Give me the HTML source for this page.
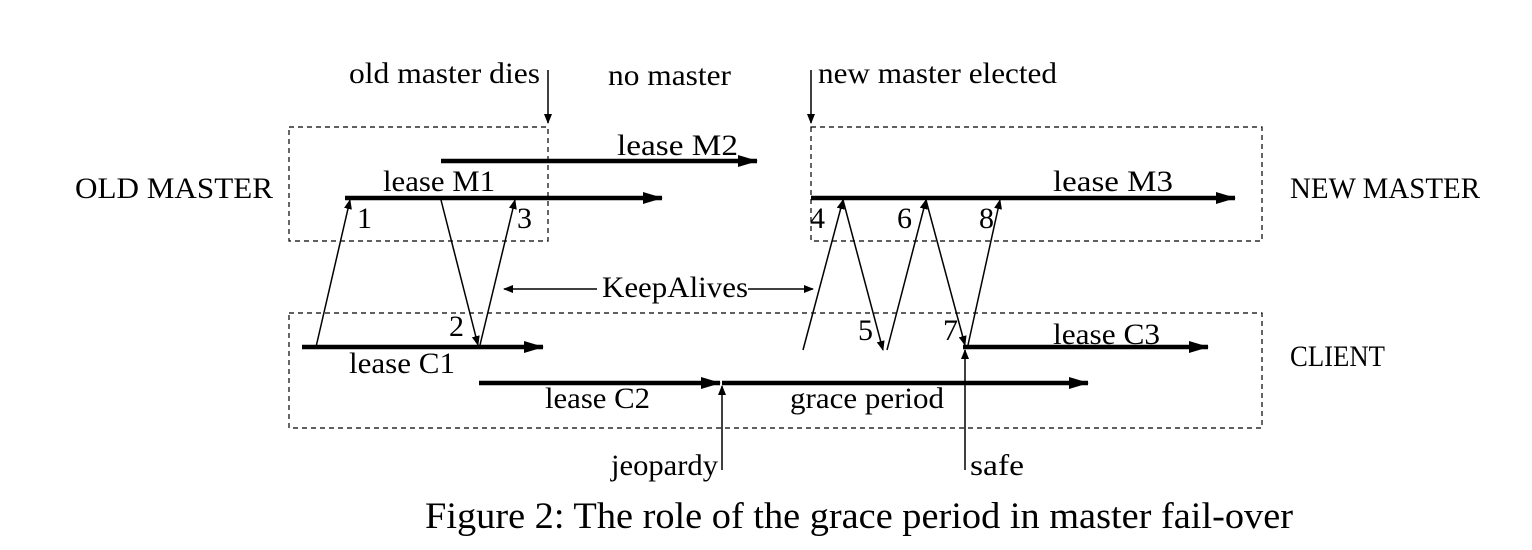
<!DOCTYPE html>
<html><head><meta charset="utf-8"><style>
html,body{margin:0;padding:0;background:#fff;}
svg{display:block;font-family:"Liberation Serif",serif;}
text{fill:#000;}
</style></head><body>
<svg width="1532" height="550" viewBox="0 0 1532 550">
<defs>
<marker id="ah" markerWidth="10" markerHeight="8" refX="9" refY="4" orient="auto" markerUnits="userSpaceOnUse"><path d="M0,0 L10,4 L0,8 Z" fill="#000"/></marker>
<marker id="ahb" markerWidth="20" markerHeight="12" refX="19" refY="6" orient="auto" markerUnits="userSpaceOnUse"><path d="M0,0 L20,6 L0,12 Z" fill="#000"/></marker>
</defs>
<g fill="none" stroke="#000" stroke-width="1.2" stroke-dasharray="5,4">
<rect x="289" y="127" width="259" height="114"/>
<rect x="811" y="127" width="451" height="114"/>
<rect x="289" y="313" width="973" height="115"/>
</g>
<g stroke="#000" stroke-width="4.5" marker-end="url(#ahb)">
<line x1="441" y1="161" x2="757" y2="161"/>
<line x1="345" y1="198" x2="662" y2="198"/>
<line x1="811" y1="198" x2="1235" y2="198"/>
<line x1="302" y1="347" x2="543" y2="347"/>
<line x1="479" y1="383" x2="720" y2="383"/>
<line x1="722" y1="383" x2="1088" y2="383"/>
<line x1="963" y1="347" x2="1208" y2="347"/>
</g>
<g stroke="#000" stroke-width="1.5" marker-end="url(#ah)">
<line x1="316" y1="347" x2="350" y2="200"/>
<line x1="441" y1="200" x2="478" y2="345"/>
<line x1="480" y1="345" x2="515" y2="200"/>
<line x1="803" y1="350" x2="843" y2="200"/>
<line x1="843" y1="200" x2="883" y2="350"/>
<line x1="887" y1="350" x2="926" y2="200"/>
<line x1="926" y1="200" x2="965" y2="345"/>
<line x1="968" y1="345" x2="1000" y2="200"/>
<line x1="597" y1="289" x2="504" y2="289"/>
<line x1="748" y1="289" x2="813" y2="289"/>
<line x1="548" y1="70" x2="548" y2="123"/>
<line x1="811" y1="70" x2="811" y2="123"/>
<line x1="722" y1="470" x2="722" y2="386"/>
<line x1="965" y1="470" x2="965" y2="350"/>
</g>
<g font-size="30" lengthAdjust="spacingAndGlyphs">
<text x="349" y="83" textLength="191" lengthAdjust="spacingAndGlyphs">old master dies</text>
<text x="608" y="85" textLength="123" lengthAdjust="spacingAndGlyphs">no master</text>
<text x="818" y="83" textLength="239" lengthAdjust="spacingAndGlyphs">new master elected</text>
<text x="75" y="198" textLength="198" lengthAdjust="spacingAndGlyphs">OLD MASTER</text>
<text x="1290" y="198" textLength="190" lengthAdjust="spacingAndGlyphs">NEW MASTER</text>
<text x="1290" y="366" textLength="95" lengthAdjust="spacingAndGlyphs">CLIENT</text>
<text x="617" y="155" textLength="121" lengthAdjust="spacingAndGlyphs">lease M2</text>
<text x="383" y="191" textLength="112" lengthAdjust="spacingAndGlyphs">lease M1</text>
<text x="1053" y="191" textLength="120" lengthAdjust="spacingAndGlyphs">lease M3</text>
<text x="357" y="228">1</text>
<text x="517" y="228">3</text>
<text x="810" y="228">4</text>
<text x="897" y="228">6</text>
<text x="979" y="228">8</text>
<text x="449" y="336">2</text>
<text x="858" y="340">5</text>
<text x="943" y="340">7</text>
<text x="602" y="297" textLength="146" lengthAdjust="spacingAndGlyphs">KeepAlives</text>
<text x="349" y="373" textLength="106" lengthAdjust="spacingAndGlyphs">lease C1</text>
<text x="545" y="408" textLength="105" lengthAdjust="spacingAndGlyphs">lease C2</text>
<text x="790" y="408" textLength="154" lengthAdjust="spacingAndGlyphs">grace period</text>
<text x="1053" y="344" textLength="107" lengthAdjust="spacingAndGlyphs">lease C3</text>
<text x="611" y="475" textLength="107" lengthAdjust="spacingAndGlyphs">jeopardy</text>
<text x="970" y="475" textLength="54" lengthAdjust="spacingAndGlyphs">safe</text>
</g>
<text x="425" y="528" font-size="37" textLength="868" lengthAdjust="spacingAndGlyphs">Figure 2: The role of the grace period in master fail-over</text>
</svg>
</body></html>
